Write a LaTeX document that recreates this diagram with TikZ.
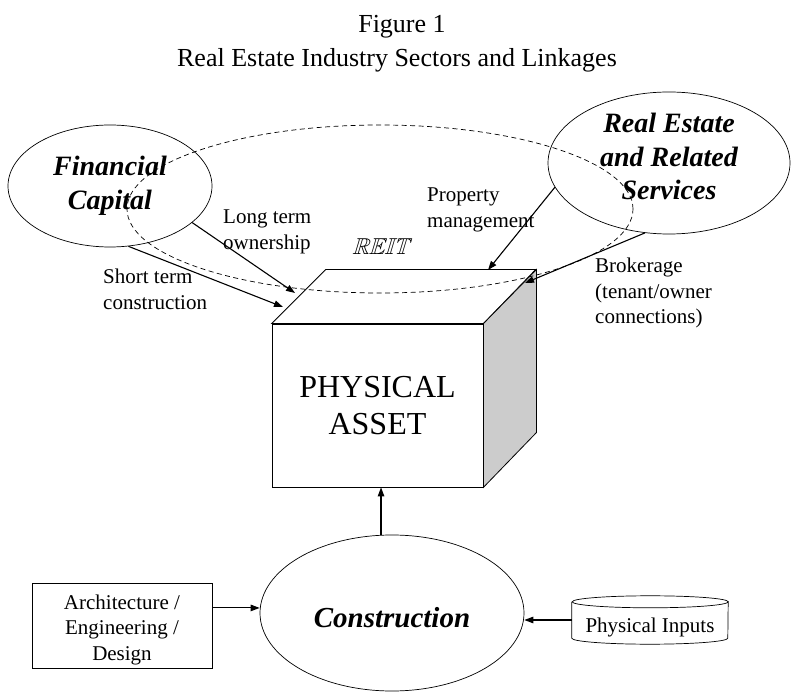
\documentclass[tikz,border=0pt]{standalone}
\usepackage{fontspec}
\setmainfont{Liberation Serif}
\usepackage{amssymb}
\usetikzlibrary{shapes.geometric,arrows.meta}
\definecolor{sidegray}{gray}{0.8}
\newcommand{\stackedlines}[3]{\raisebox{0pt}[#1][#2]{\begin{tabular}[t]{@{}c@{}}#3\end{tabular}}}
\begin{document}
\begin{tikzpicture}[x=1pt,y=-1pt,
  titlefont/.style={font=\fontsize{26}{34}\selectfont},
  oval/.style={draw, ellipse, inner sep=0pt, line width=0.7pt, align=center,
    font=\fontsize{28}{33.5}\selectfont\bfseries\itshape},
  lbl/.style={align=left, inner sep=0pt, anchor=north west, font=\fontsize{21}{25.5}\selectfont},
  smallbox/.style={draw, line width=0.7pt, inner sep=0pt, align=center, font=\fontsize{21}{25.5}\selectfont},
  arr/.style={-{Triangle[length=9pt,width=6.5pt]}, line width=1.1pt},
  facestyle/.style={draw, line width=0.8pt, line join=miter}
]
\useasboundingbox (0,0) rectangle (793,692);

% title
\node[titlefont, anchor=base] (t1) at (402,33) {Figure 1};
\node[titlefont, anchor=base] (t2) at (397,67) {Real Estate Industry Sectors and Linkages};

% sector ellipses
\node[oval, minimum width=204, minimum height=122] (fc) at (110,186) {Financial\\Capital};
\node[oval, minimum width=242, minimum height=142] (re) at (669,163)
  {\stackedlines{19pt}{79pt}{Real Estate\\and Related\\Services}};
\node[oval, minimum width=264, minimum height=156, font=\fontsize{29}{34}\selectfont\bfseries\itshape,
      text height=34pt, text depth=6pt] (con) at (392,613) {Construction};

% the cube (physical asset)
\node[facestyle, fill=white, minimum width=211, minimum height=163, inner sep=0pt, align=center,
      font=\fontsize{32}{37}\selectfont] (asset) at (377.5,405.5) {PHYSICAL\\ASSET};
\draw[facestyle, fill=white] (asset.north west) -- ++(54,-54) -- ++(210,0) -- (asset.north east) -- cycle;
\draw[facestyle, fill=sidegray] (asset.north east) -- ++(53,-54) -- ++(0,163) -- (asset.south east) -- cycle;

% REIT dashed ellipse
\node[draw, ellipse, dashed, dash pattern=on 5pt off 3.5pt, line width=0.7pt, inner sep=0pt,
      minimum width=506, minimum height=168] (reitoval) at (380,209) {};
\begin{scope}[shift={(380.5,255)}, xslant=0.3, transform shape]
  \node[anchor=base, inner sep=0pt, font=\fontsize{23}{28}\selectfont] (reit) at (0,0) {$\mathbb{REIT}$};
\end{scope}

% bottom boxes
\node[smallbox, minimum width=180, minimum height=85] (aed) at (122,625.5)
  {\stackedlines{15pt}{48pt}{Architecture /\\Engineering /\\Design}};
\node[inner sep=0pt, minimum width=156, minimum height=36, font=\fontsize{21}{25}\selectfont,
      text height=28.6pt, text depth=4.6pt] (pi) at (650,620) {Physical Inputs};
\draw[line width=0.7pt] (pi.north west) -- (pi.south west)
  arc[start angle=180, end angle=360, x radius=78, y radius=-6] -- (pi.north east)
  arc[start angle=0, end angle=360, x radius=78, y radius=6];

% arrow targets on the cube
\coordinate (ltend) at (295,293);
\coordinate (stend) at (283,307);
\coordinate (pmend) at (488,270);
\coordinate (brend) at (525,283);

% labels
\node[lbl] (ltl) at (223,210) {Long term\\ownership};
\node[lbl] (stl) at (103,269) {Short term\\construction};
\node[lbl] (pml) at (427,188) {Property\\management};
\node[lbl] (brl) at (595,258) {Brokerage\\(tenant/owner\\connections)};

% connectors
\draw[arr] (fc.-24.5) -- (ltend);
\draw[arr] (fc.-73) -- (stend);
\draw[arr] (re.-168) -- (pmend);
\draw[arr] (re.-109) -- (brend);
\draw[arr] (con.98) -- (con.98 |- asset.south);
\draw[arr] (aed.11) -- (aed.11 -| con.west);
\draw[arr] (pi.west) -- (pi.west -| con.east);
\end{tikzpicture}
\end{document}
